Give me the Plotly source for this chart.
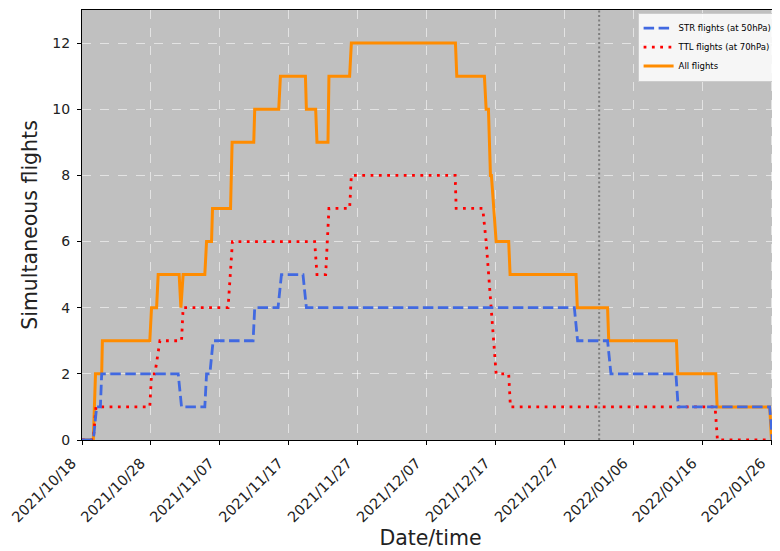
import plotly.graph_objects as go

# ---- data ----
all_times = [
    "2021-10-18 00:00", "2021-10-19 15:20", "2021-10-19 23:00", "2021-10-20 20:30",
    "2021-10-20 23:00", "2021-10-27 20:00", "2021-10-28 02:00", "2021-10-28 19:40",
    "2021-10-29 01:10", "2021-11-01 02:10", "2021-11-01 08:10", "2021-11-01 16:00",
    "2021-11-04 19:30", "2021-11-05 01:30", "2021-11-05 18:50", "2021-11-05 22:20",
    "2021-11-08 13:00", "2021-11-08 18:30", "2021-11-11 21:50", "2021-11-12 01:10",
    "2021-11-15 12:40", "2021-11-15 18:40", "2021-11-19 09:40", "2021-11-19 13:00",
    "2021-11-20 21:20", "2021-11-21 01:50", "2021-11-22 16:10", "2021-11-22 19:30",
    "2021-11-25 19:30", "2021-11-26 01:30", "2021-12-11 03:50", "2021-12-11 08:30",
    "2021-12-15 08:40", "2021-12-15 14:40", "2021-12-15 22:40", "2021-12-16 05:40",
    "2021-12-16 09:00", "2021-12-17 01:30", "2021-12-18 21:10", "2021-12-19 02:00",
    "2021-12-28 15:30", "2021-12-28 20:00", "2022-01-02 05:20", "2022-01-02 09:20",
    "2022-01-12 05:00", "2022-01-12 09:20", "2022-01-17 22:00", "2022-01-18 02:40",
    "2022-01-25 17:40", "2022-01-26 00:00", "2022-01-27 02:00",
]
all_flights = [
    0, 0, 2, 2,
    3, 3, 4, 4,
    5, 5, 4, 5,
    5, 6, 6, 7,
    7, 9, 9, 10,
    10, 11, 11, 10,
    10, 9, 9, 11,
    11, 12, 12, 11,
    11, 10, 10, 8,
    8, 6, 6, 5,
    5, 4, 4, 3,
    3, 2, 2, 1,
    1, 0, 0,
]

ttl_times = [
    "2021-10-18 00:00", "2021-10-19 15:20", "2021-10-20 00:40", "2021-10-27 20:00",
    "2021-10-28 02:00", "2021-10-28 13:40", "2021-10-29 07:10", "2021-11-01 10:30",
    "2021-11-01 16:00", "2021-11-08 04:30", "2021-11-08 19:40", "2021-11-20 17:50",
    "2021-11-21 01:50", "2021-11-22 08:10", "2021-11-22 19:30", "2021-11-25 19:30",
    "2021-11-26 01:30", "2021-12-11 02:50", "2021-12-11 06:20", "2021-12-15 02:50",
    "2021-12-15 14:40", "2021-12-17 01:30", "2021-12-18 21:10", "2021-12-19 03:10",
    "2022-01-17 19:40", "2022-01-18 03:40", "2022-01-27 02:00",
]
ttl_flights = [
    0, 0, 1, 1,
    2, 2, 3, 3,
    4, 4, 6, 6,
    5, 5, 7, 7,
    8, 8, 7, 7,
    6, 2, 2, 1,
    1, 0, 0,
]

str_times = [
    "2021-10-18 00:00", "2021-10-19 15:20", "2021-10-20 03:00", "2021-10-20 16:00",
    "2021-10-20 20:30", "2021-10-31 22:50", "2021-11-01 10:30", "2021-11-04 19:30",
    "2021-11-05 01:30", "2021-11-05 13:00", "2021-11-06 00:20", "2021-11-11 19:30",
    "2021-11-12 01:10", "2021-11-15 10:20", "2021-11-15 22:10", "2021-11-19 01:10",
    "2021-11-19 13:00", "2021-12-28 09:40", "2021-12-28 21:00", "2022-01-02 05:20",
    "2022-01-02 17:00", "2022-01-12 03:10", "2022-01-12 11:00", "2022-01-25 17:40",
    "2022-01-26 02:50", "2022-01-27 02:00",
]
str_flights = [
    0, 0, 1, 1,
    2, 2, 1, 1,
    2, 2, 3, 3,
    4, 4, 5, 5,
    4, 4, 3, 3,
    2, 2, 1, 1,
    0, 0,
]

tick_dates = [
    "2021-10-18", "2021-10-28", "2021-11-07", "2021-11-17", "2021-11-27", "2021-12-07",
    "2021-12-17", "2021-12-27", "2022-01-06", "2022-01-16", "2022-01-26",
]
tick_labels = [d.replace("-", "/") for d in tick_dates]
marker_date = "2022-01-01"
y_ticks = [0, 2, 4, 6, 8, 10, 12]

# ---- figure ----
fig = go.Figure()
fig.add_trace(go.Scatter(
    x=all_times, y=all_flights, mode="lines", name="All flights",
    line=dict(color="#ff8c00", width=3), legendrank=3,
))
fig.add_trace(go.Scatter(
    x=ttl_times, y=ttl_flights, mode="lines", name="TTL flights (at 70hPa)",
    line=dict(color="red", width=2.8, dash="2.8px,5.5px"), legendrank=2,
))
fig.add_trace(go.Scatter(
    x=str_times, y=str_flights, mode="lines", name="STR flights (at 50hPa)",
    line=dict(color="#4169e1", width=2.8, dash="10.5px,4.5px"), legendrank=1,
))

fig.add_shape(
    type="line", xref="x", yref="paper", x0=marker_date, x1=marker_date, y0=0, y1=1,
    line=dict(color="#7f7f7f", width=2, dash="2px,2.5px"), layer="between",
)

font_family = "DejaVu Sans"
# the page body adds an 8px offset, so the figure is 8px smaller on each side
fig.update_layout(
    width=772, height=543,
    margin=dict(l=74, r=1, t=2, b=111, autoexpand=False),
    paper_bgcolor="white",
    plot_bgcolor="#c0c0c0",
    font=dict(family=font_family, size=14, color="#222222"),
    showlegend=True,
    legend=dict(
        x=0.998, y=0.994, xanchor="right", yanchor="top",
        bgcolor="rgba(255,255,255,0.85)", bordercolor="#cccccc", borderwidth=1,
        font=dict(size=8.5, family=font_family, color="black"),
        tracegroupgap=0, itemwidth=30,
    ),
)
fig.update_xaxes(
    type="date", automargin=False,
    range=["2021-10-18 00:00", "2022-01-27 02:00"],
    tickvals=tick_dates, ticktext=tick_labels, tickangle=-45,
    ticklabelshift=-10, ticklabelstandoff=4,
    tickfont=dict(size=14.5),
    ticks="outside", ticklen=4, tickcolor="black",
    showline=True, linecolor="black", linewidth=1, mirror=True,
    showgrid=True, gridcolor="rgba(255,255,255,0.55)", griddash="dash", gridwidth=1,
    zeroline=False,
    title=dict(text="Date/time", font=dict(size=20.5, family=font_family, color="#222222"), standoff=6),
)
fig.update_yaxes(
    range=[0, 13], automargin=False,
    tickvals=y_ticks, ticklabelstandoff=4,
    ticks="outside", ticklen=4, tickcolor="black",
    showline=True, linecolor="black", linewidth=1, mirror=True,
    showgrid=True, gridcolor="rgba(255,255,255,0.55)", griddash="dash", gridwidth=1,
    zeroline=False,
    title=dict(text="Simultaneous flights", font=dict(size=20.5, family=font_family, color="#222222"), standoff=9),
)

fig.write_html("out.html")
